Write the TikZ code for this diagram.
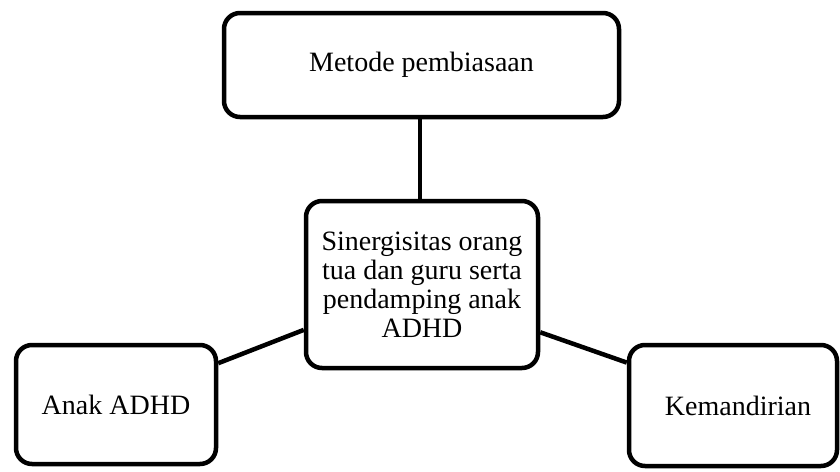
\documentclass[tikz,border=0pt]{standalone}
\usepackage{fontspec}
\setmainfont{Liberation Serif}
\begin{document}
\begin{tikzpicture}[x=1pt,y=-1pt,
  box/.style={draw=black, line width=4.5pt, rounded corners=16pt, fill=white,
    align=center, inner sep=0pt, font=\fontsize{28}{29}\selectfont},
  link/.style={draw=black, line width=4.5pt}]
\useasboundingbox (0,0) rectangle (840,471);
\node[box, minimum width=395pt, minimum height=104pt] (T) at (421.5,65) {Metode pembiasaan};
\node[box, minimum width=232pt, minimum height=167pt] (C) at (422,284.5) {Sinergisitas orang\\tua dan guru serta\\pendamping anak\\ADHD};
\node[box, minimum width=200pt, minimum height=119pt] (L) at (116,404.5) {Anak ADHD};
\node[box, minimum width=208pt, minimum height=121pt] (R) at (733,405.5) {\hspace*{10pt}Kemandirian};
\draw[link] (T.south -| 420,0) -- (C.north -| 420,0);
\draw[link] (L.22.5) -- (C.201);
\draw[link] (C.338.6) -- (R.158);
\end{tikzpicture}
\end{document}
